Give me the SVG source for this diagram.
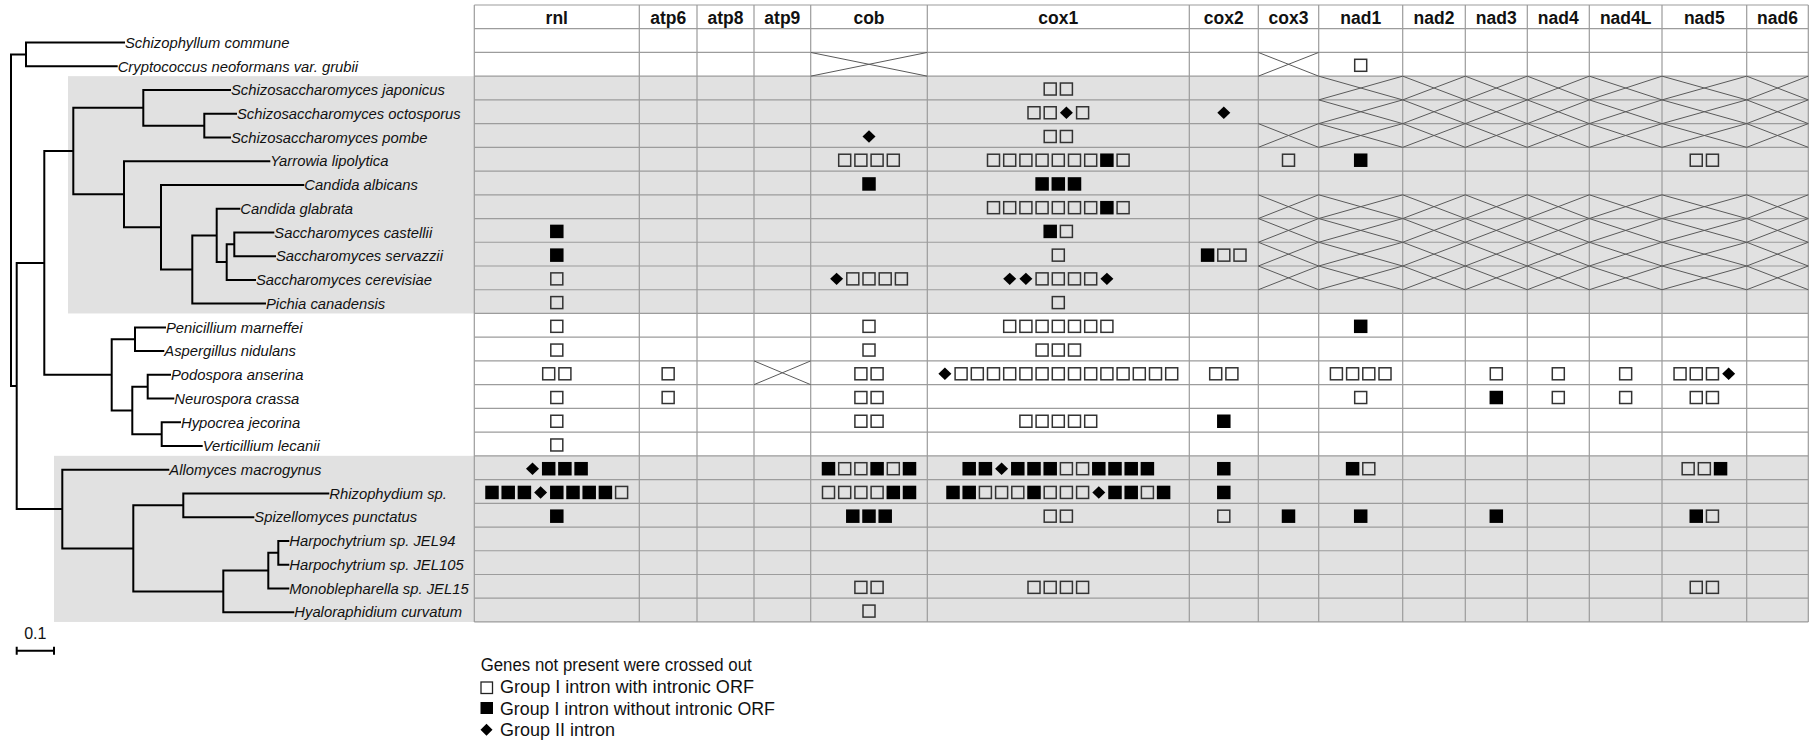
<svg xmlns="http://www.w3.org/2000/svg" width="1814" height="741" viewBox="0 0 1814 741">
<style>
.grid{stroke:#9c9c9c;stroke-width:1.2;fill:none}
.x{stroke:#5a5a5a;stroke-width:1;fill:none}
.tree{stroke:#000;stroke-width:2;fill:none;stroke-linecap:square}
.sp{font-family:"Liberation Sans",Arial,sans-serif;font-style:italic;font-size:14.8px;fill:#111}
.hd{font-family:"Liberation Sans",Arial,sans-serif;font-weight:bold;font-size:17.5px;fill:#111;text-anchor:middle}
.lg{font-family:"Liberation Sans",Arial,sans-serif;font-size:18px;fill:#111}
.band{fill:#e1e1e1}
</style>
<defs>
<rect id="o" x="-6" y="-6" width="12" height="12" fill="none" stroke="#333" stroke-width="1.5"/>
<rect id="f" x="-6.75" y="-6.75" width="13.5" height="13.5" fill="#000"/>
<path id="d" d="M0-6.2L6.5 0L0 6.2L-6.5 0Z" fill="#000"/>
<path id="nx" d="M1318.7 0L1402.7 23.73M1318.7 23.73L1402.7 0M1402.7 0L1465.3 23.73M1402.7 23.73L1465.3 0M1465.3 0L1527.3 23.73M1465.3 23.73L1527.3 0M1527.3 0L1589.3 23.73M1527.3 23.73L1589.3 0M1589.3 0L1662 23.73M1589.3 23.73L1662 0M1662 0L1746.7 23.73M1662 23.73L1746.7 0M1746.7 0L1808.3 23.73M1746.7 23.73L1808.3 0"/>
<path id="c3x" d="M1258.3 0L1318.7 23.73M1258.3 23.73L1318.7 0"/>
</defs>

<g id="bands">
<rect class="band" x="68" y="76.16" width="1740.3" height="237.3"/>
<rect class="band" x="54" y="455.84" width="1754.3" height="166.11"/>
</g>

<g id="table-grid">
<path class="grid" d="M474.3 5H1808.3M474.3 28.7H1808.3M474.3 52.43H1808.3M474.3 76.16H1808.3M474.3 99.89H1808.3M474.3 123.62H1808.3M474.3 147.35H1808.3M474.3 171.08H1808.3M474.3 194.81H1808.3M474.3 218.54H1808.3M474.3 242.27H1808.3M474.3 266H1808.3M474.3 289.73H1808.3M474.3 313.46H1808.3M474.3 337.19H1808.3M474.3 360.92H1808.3M474.3 384.65H1808.3M474.3 408.38H1808.3M474.3 432.11H1808.3M474.3 455.84H1808.3M474.3 479.57H1808.3M474.3 503.3H1808.3M474.3 527.03H1808.3M474.3 550.76H1808.3M474.3 574.49H1808.3M474.3 598.22H1808.3M474.3 621.95H1808.3"/>
<path class="grid" d="M474.3 5V621.95M639.3 5V621.95M697 5V621.95M754 5V621.95M810.7 5V621.95M927.3 5V621.95M1189.3 5V621.95M1258.3 5V621.95M1318.7 5V621.95M1402.7 5V621.95M1465.3 5V621.95M1527.3 5V621.95M1589.3 5V621.95M1662 5V621.95M1746.7 5V621.95M1808.3 5V621.95"/>
</g>

<g id="headers">
<text class="hd" x="556.8" y="23.5">rnl</text>
<text class="hd" x="668.15" y="23.5">atp6</text>
<text class="hd" x="725.5" y="23.5">atp8</text>
<text class="hd" x="782.35" y="23.5">atp9</text>
<text class="hd" x="869" y="23.5">cob</text>
<text class="hd" x="1058.3" y="23.5">cox1</text>
<text class="hd" x="1223.8" y="23.5">cox2</text>
<text class="hd" x="1288.5" y="23.5">cox3</text>
<text class="hd" x="1360.7" y="23.5">nad1</text>
<text class="hd" x="1434" y="23.5">nad2</text>
<text class="hd" x="1496.3" y="23.5">nad3</text>
<text class="hd" x="1558.3" y="23.5">nad4</text>
<text class="hd" x="1625.65" y="23.5">nad4L</text>
<text class="hd" x="1704.35" y="23.5">nad5</text>
<text class="hd" x="1777.5" y="23.5">nad6</text>
</g>

<g id="crossed-out" class="x">
<path d="M810.7 52.43L927.3 76.16M810.7 76.16L927.3 52.43"/>
<use href="#c3x" y="52.43"/>
<use href="#nx" y="76.16"/>
<use href="#nx" y="99.89"/>
<use href="#nx" y="123.62"/>
<use href="#c3x" y="123.62"/>
<use href="#nx" y="194.81"/>
<use href="#c3x" y="194.81"/>
<use href="#nx" y="218.54"/>
<use href="#c3x" y="218.54"/>
<use href="#nx" y="242.27"/>
<use href="#c3x" y="242.27"/>
<use href="#nx" y="266"/>
<use href="#c3x" y="266"/>
<path d="M754 360.92L810.7 384.65M754 384.65L810.7 360.92"/>
</g>

<g id="introns">
<g id="r-cryptococcus"><g transform="translate(1360.7,65.3)"><use href="#o"/></g></g>
<g id="r-sjaponicus"><g transform="translate(1058.3,89.03)"><use href="#o" x="-8.1"/><use href="#o" x="8.1"/></g></g>
<g id="r-soctosporus">
<g transform="translate(1058.3,112.76)"><use href="#o" x="-24.3"/><use href="#o" x="-8.1"/><use href="#d" x="8.1"/><use href="#o" x="24.3"/></g>
<g transform="translate(1223.8,112.76)"><use href="#d"/></g>
</g>
<g id="r-spombe">
<g transform="translate(869,136.49)"><use href="#d"/></g>
<g transform="translate(1058.3,136.49)"><use href="#o" x="-8.1"/><use href="#o" x="8.1"/></g>
</g>
<g id="r-yarrowia">
<g transform="translate(869,160.22)"><use href="#o" x="-24.3"/><use href="#o" x="-8.1"/><use href="#o" x="8.1"/><use href="#o" x="24.3"/></g>
<g transform="translate(1058.3,160.22)"><use href="#o" x="-64.8"/><use href="#o" x="-48.6"/><use href="#o" x="-32.4"/><use href="#o" x="-16.2"/><use href="#o"/><use href="#o" x="16.2"/><use href="#o" x="32.4"/><use href="#f" x="48.6"/><use href="#o" x="64.8"/></g>
<g transform="translate(1288.5,160.22)"><use href="#o"/></g>
<g transform="translate(1360.7,160.22)"><use href="#f"/></g>
<g transform="translate(1704.35,160.22)"><use href="#o" x="-8.1"/><use href="#o" x="8.1"/></g>
</g>
<g id="r-calbicans">
<g transform="translate(869,183.95)"><use href="#f"/></g>
<g transform="translate(1058.3,183.95)"><use href="#f" x="-16.2"/><use href="#f"/><use href="#f" x="16.2"/></g>
</g>
<g id="r-cglabrata">
<g transform="translate(1058.3,207.68)"><use href="#o" x="-64.8"/><use href="#o" x="-48.6"/><use href="#o" x="-32.4"/><use href="#o" x="-16.2"/><use href="#o"/><use href="#o" x="16.2"/><use href="#o" x="32.4"/><use href="#f" x="48.6"/><use href="#o" x="64.8"/></g>
</g>
<g id="r-scastellii">
<g transform="translate(556.8,231.41)"><use href="#f"/></g>
<g transform="translate(1058.3,231.41)"><use href="#f" x="-8.1"/><use href="#o" x="8.1"/></g>
</g>
<g id="r-sservazzii">
<g transform="translate(556.8,255.14)"><use href="#f"/></g>
<g transform="translate(1058.3,255.14)"><use href="#o"/></g>
<g transform="translate(1223.8,255.14)"><use href="#f" x="-16.2"/><use href="#o"/><use href="#o" x="16.2"/></g>
</g>
<g id="r-scerevisiae">
<g transform="translate(556.8,278.87)"><use href="#o"/></g>
<g transform="translate(869,278.87)"><use href="#d" x="-32.4"/><use href="#o" x="-16.2"/><use href="#o"/><use href="#o" x="16.2"/><use href="#o" x="32.4"/></g>
<g transform="translate(1058.3,278.87)"><use href="#d" x="-48.6"/><use href="#d" x="-32.4"/><use href="#o" x="-16.2"/><use href="#o"/><use href="#o" x="16.2"/><use href="#o" x="32.4"/><use href="#d" x="48.6"/></g>
</g>
<g id="r-pichia">
<g transform="translate(556.8,302.6)"><use href="#o"/></g>
<g transform="translate(1058.3,302.6)"><use href="#o"/></g>
</g>
<g id="r-penicillium">
<g transform="translate(556.8,326.33)"><use href="#o"/></g>
<g transform="translate(869,326.33)"><use href="#o"/></g>
<g transform="translate(1058.3,326.33)"><use href="#o" x="-48.6"/><use href="#o" x="-32.4"/><use href="#o" x="-16.2"/><use href="#o"/><use href="#o" x="16.2"/><use href="#o" x="32.4"/><use href="#o" x="48.6"/></g>
<g transform="translate(1360.7,326.33)"><use href="#f"/></g>
</g>
<g id="r-aspergillus">
<g transform="translate(556.8,350.06)"><use href="#o"/></g>
<g transform="translate(869,350.06)"><use href="#o"/></g>
<g transform="translate(1058.3,350.06)"><use href="#o" x="-16.2"/><use href="#o"/><use href="#o" x="16.2"/></g>
</g>
<g id="r-podospora">
<g transform="translate(556.8,373.79)"><use href="#o" x="-8.1"/><use href="#o" x="8.1"/></g>
<g transform="translate(668.15,373.79)"><use href="#o"/></g>
<g transform="translate(869,373.79)"><use href="#o" x="-8.1"/><use href="#o" x="8.1"/></g>
<g transform="translate(1058.3,373.79)"><use href="#d" x="-113.4"/><use href="#o" x="-97.2"/><use href="#o" x="-81"/><use href="#o" x="-64.8"/><use href="#o" x="-48.6"/><use href="#o" x="-32.4"/><use href="#o" x="-16.2"/><use href="#o"/><use href="#o" x="16.2"/><use href="#o" x="32.4"/><use href="#o" x="48.6"/><use href="#o" x="64.8"/><use href="#o" x="81"/><use href="#o" x="97.2"/><use href="#o" x="113.4"/></g>
<g transform="translate(1223.8,373.79)"><use href="#o" x="-8.1"/><use href="#o" x="8.1"/></g>
<g transform="translate(1360.7,373.79)"><use href="#o" x="-24.3"/><use href="#o" x="-8.1"/><use href="#o" x="8.1"/><use href="#o" x="24.3"/></g>
<g transform="translate(1496.3,373.79)"><use href="#o"/></g>
<g transform="translate(1558.3,373.79)"><use href="#o"/></g>
<g transform="translate(1625.65,373.79)"><use href="#o"/></g>
<g transform="translate(1704.35,373.79)"><use href="#o" x="-24.3"/><use href="#o" x="-8.1"/><use href="#o" x="8.1"/><use href="#d" x="24.3"/></g>
</g>
<g id="r-neurospora">
<g transform="translate(556.8,397.52)"><use href="#o"/></g>
<g transform="translate(668.15,397.52)"><use href="#o"/></g>
<g transform="translate(869,397.52)"><use href="#o" x="-8.1"/><use href="#o" x="8.1"/></g>
<g transform="translate(1360.7,397.52)"><use href="#o"/></g>
<g transform="translate(1496.3,397.52)"><use href="#f"/></g>
<g transform="translate(1558.3,397.52)"><use href="#o"/></g>
<g transform="translate(1625.65,397.52)"><use href="#o"/></g>
<g transform="translate(1704.35,397.52)"><use href="#o" x="-8.1"/><use href="#o" x="8.1"/></g>
</g>
<g id="r-hypocrea">
<g transform="translate(556.8,421.25)"><use href="#o"/></g>
<g transform="translate(869,421.25)"><use href="#o" x="-8.1"/><use href="#o" x="8.1"/></g>
<g transform="translate(1058.3,421.25)"><use href="#o" x="-32.4"/><use href="#o" x="-16.2"/><use href="#o"/><use href="#o" x="16.2"/><use href="#o" x="32.4"/></g>
<g transform="translate(1223.8,421.25)"><use href="#f"/></g>
</g>
<g id="r-verticillium">
<g transform="translate(556.8,444.98)"><use href="#o"/></g>
</g>
<g id="r-allomyces">
<g transform="translate(556.8,468.71)"><use href="#d" x="-24.3"/><use href="#f" x="-8.1"/><use href="#f" x="8.1"/><use href="#f" x="24.3"/></g>
<g transform="translate(869,468.71)"><use href="#f" x="-40.5"/><use href="#o" x="-24.3"/><use href="#o" x="-8.1"/><use href="#f" x="8.1"/><use href="#o" x="24.3"/><use href="#f" x="40.5"/></g>
<g transform="translate(1058.3,468.71)"><use href="#f" x="-89.1"/><use href="#f" x="-72.9"/><use href="#d" x="-56.7"/><use href="#f" x="-40.5"/><use href="#f" x="-24.3"/><use href="#f" x="-8.1"/><use href="#o" x="8.1"/><use href="#o" x="24.3"/><use href="#f" x="40.5"/><use href="#f" x="56.7"/><use href="#f" x="72.9"/><use href="#f" x="89.1"/></g>
<g transform="translate(1223.8,468.71)"><use href="#f"/></g>
<g transform="translate(1360.7,468.71)"><use href="#f" x="-8.1"/><use href="#o" x="8.1"/></g>
<g transform="translate(1704.35,468.71)"><use href="#o" x="-16.2"/><use href="#o"/><use href="#f" x="16.2"/></g>
</g>
<g id="r-rhizophydium">
<g transform="translate(556.8,492.44)"><use href="#f" x="-64.8"/><use href="#f" x="-48.6"/><use href="#f" x="-32.4"/><use href="#d" x="-16.2"/><use href="#f"/><use href="#f" x="16.2"/><use href="#f" x="32.4"/><use href="#f" x="48.6"/><use href="#o" x="64.8"/></g>
<g transform="translate(869,492.44)"><use href="#o" x="-40.5"/><use href="#o" x="-24.3"/><use href="#o" x="-8.1"/><use href="#o" x="8.1"/><use href="#f" x="24.3"/><use href="#f" x="40.5"/></g>
<g transform="translate(1058.3,492.44)"><use href="#f" x="-105.3"/><use href="#f" x="-89.1"/><use href="#o" x="-72.9"/><use href="#o" x="-56.7"/><use href="#o" x="-40.5"/><use href="#f" x="-24.3"/><use href="#o" x="-8.1"/><use href="#o" x="8.1"/><use href="#o" x="24.3"/><use href="#d" x="40.5"/><use href="#f" x="56.7"/><use href="#f" x="72.9"/><use href="#o" x="89.1"/><use href="#f" x="105.3"/></g>
<g transform="translate(1223.8,492.44)"><use href="#f"/></g>
</g>
<g id="r-spizellomyces">
<g transform="translate(556.8,516.17)"><use href="#f"/></g>
<g transform="translate(869,516.17)"><use href="#f" x="-16.2"/><use href="#f"/><use href="#f" x="16.2"/></g>
<g transform="translate(1058.3,516.17)"><use href="#o" x="-8.1"/><use href="#o" x="8.1"/></g>
<g transform="translate(1223.8,516.17)"><use href="#o"/></g>
<g transform="translate(1288.5,516.17)"><use href="#f"/></g>
<g transform="translate(1360.7,516.17)"><use href="#f"/></g>
<g transform="translate(1496.3,516.17)"><use href="#f"/></g>
<g transform="translate(1704.35,516.17)"><use href="#f" x="-8.1"/><use href="#o" x="8.1"/></g>
</g>
<g id="r-monoblepharella">
<g transform="translate(869,587.36)"><use href="#o" x="-8.1"/><use href="#o" x="8.1"/></g>
<g transform="translate(1058.3,587.36)"><use href="#o" x="-24.3"/><use href="#o" x="-8.1"/><use href="#o" x="8.1"/><use href="#o" x="24.3"/></g>
<g transform="translate(1704.35,587.36)"><use href="#o" x="-8.1"/><use href="#o" x="8.1"/></g>
</g>
<g id="r-hyaloraphidium">
<g transform="translate(869,611.09)"><use href="#o"/></g>
</g>
</g>

<g id="tree-connectors">
<path class="tree" d="M11 54.45V386M11 54.45H26M26 42.6V66.3M26 42.6H124M26 66.3H116.7
M11 386H16.7M16.7 262.9V509.1
M16.7 262.9H44.3M44.3 151V374.8
M44.3 151H73.3M73.3 107.8V194.2
M73.3 107.8H143.3M143.3 90V125.65M143.3 90H230M143.3 125.65H204.3M204.3 113.8V137.5M204.3 113.8H236M204.3 137.5H230
M73.3 194.2H124M124 161.2V227.25M124 161.2H269.3M124 227.25H161M161 185V269.5M161 185H303.3M161 269.5H192.3M192.3 235.4V303.6M192.3 303.6H265M192.3 235.4H216.7M216.7 208.7V262.1M216.7 208.7H239.3M216.7 262.1H226.7M226.7 244.3V279.9M226.7 279.9H255M226.7 244.3H234.3M234.3 232.4V256.2M234.3 232.4H273.3M234.3 256.2H275
M44.3 374.8H111.7M111.7 339.25V410.4M111.7 339.25H135M135 327.4V351.1M135 327.4H165M135 351.1H163.3M111.7 410.4H132.3M132.3 386.7V434.15M132.3 386.7H147.7M147.7 374.8V398.6M147.7 374.8H170M147.7 398.6H173.3M132.3 434.15H161.7M161.7 422.3V446M161.7 422.3H180M161.7 446H201.7
M16.7 509.1H62.3M62.3 469.8V548.4M62.3 469.8H168.3M62.3 548.4H133.3M133.3 505.35V591.4M133.3 505.35H183.3M183.3 493.5V517.2M183.3 493.5H328.3M183.3 517.2H253.3M133.3 591.4H223.3M223.3 570.6V612.2M223.3 612.2H293.3M223.3 570.6H268.3M268.3 552.85V588.4M268.3 588.4H288.3M268.3 552.85H278.3M278.3 541V564.7M278.3 541H288.3M278.3 564.7H288.3"/>
</g>

<g id="species-labels">
<text class="sp" x="125" y="47.8">Schizophyllum commune</text>
<text class="sp" x="117.7" y="71.5">Cryptococcus neoformans var. grubii</text>
<text class="sp" x="231" y="95.2">Schizosaccharomyces japonicus</text>
<text class="sp" x="237" y="119">Schizosaccharomyces octosporus</text>
<text class="sp" x="231" y="142.7">Schizosaccharomyces pombe</text>
<text class="sp" x="270.3" y="166.4">Yarrowia lipolytica</text>
<text class="sp" x="304.3" y="190.2">Candida albicans</text>
<text class="sp" x="240.3" y="213.9">Candida glabrata</text>
<text class="sp" x="274.3" y="237.6">Saccharomyces castellii</text>
<text class="sp" x="276" y="261.4">Saccharomyces servazzii</text>
<text class="sp" x="256" y="285.1">Saccharomyces cerevisiae</text>
<text class="sp" x="266" y="308.8">Pichia canadensis</text>
<text class="sp" x="166" y="332.6">Penicillium marneffei</text>
<text class="sp" x="164.3" y="356.3">Aspergillus nidulans</text>
<text class="sp" x="171" y="380">Podospora anserina</text>
<text class="sp" x="174.3" y="403.8">Neurospora crassa</text>
<text class="sp" x="181" y="427.5">Hypocrea jecorina</text>
<text class="sp" x="202.7" y="451.2">Verticillium lecanii</text>
<text class="sp" x="169.3" y="475">Allomyces macrogynus</text>
<text class="sp" x="329.3" y="498.7">Rhizophydium sp.</text>
<text class="sp" x="254.3" y="522.4">Spizellomyces punctatus</text>
<text class="sp" x="289.3" y="546.2">Harpochytrium sp. JEL94</text>
<text class="sp" x="289.3" y="569.9">Harpochytrium sp. JEL105</text>
<text class="sp" x="289.3" y="593.6">Monoblepharella sp. JEL15</text>
<text class="sp" x="294.3" y="617.4">Hyaloraphidium curvatum</text>
</g>

<g id="scale-bar">
<text x="35.3" y="638.5" font-family="Liberation Sans, Arial, sans-serif" font-size="16" text-anchor="middle" fill="#111">0.1</text>
<path d="M16.7 650.7H54M16.7 646.7V654.7M54 646.7V654.7" stroke="#000" stroke-width="2" fill="none"/>
</g>

<g id="legend">
<text class="lg" x="480.7" y="671" textLength="271" lengthAdjust="spacingAndGlyphs">Genes not present were crossed out</text>
<rect x="481" y="682" width="11.5" height="11.5" fill="none" stroke="#222" stroke-width="1.3"/>
<text class="lg" x="500" y="693.3" textLength="254" lengthAdjust="spacingAndGlyphs">Group I intron with intronic ORF</text>
<rect x="480.5" y="702" width="12.5" height="12" fill="#000"/>
<text class="lg" x="500" y="715" textLength="275" lengthAdjust="spacingAndGlyphs">Group I intron without intronic ORF</text>
<path d="M486.5 723.7L492.5 729.7L486.5 735.7L480.5 729.7Z" fill="#000"/>
<text class="lg" x="500" y="736" textLength="115" lengthAdjust="spacingAndGlyphs">Group II intron</text>
</g>
</svg>
